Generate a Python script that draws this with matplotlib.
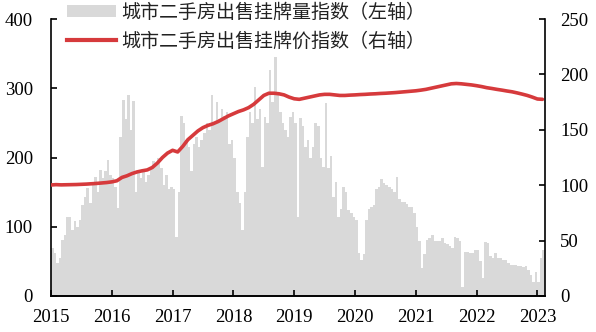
import numpy as np
import matplotlib
matplotlib.use('Agg')
import matplotlib.pyplot as plt
from matplotlib.patches import Patch
from matplotlib.lines import Line2D
from matplotlib.font_manager import FontProperties

# Semi-monthly listing volume index (left axis), 24 values per year
listing_2015 = [69, 62, 48, 55, 81, 88, 114, 114, 95, 108, 100, 110,
                131, 143, 156, 135, 160, 172, 150, 182, 170, 180, 196, 175]
listing_2016 = [170, 158, 127, 230, 283, 255, 290, 240, 282, 150, 178, 170,
                180, 165, 175, 185, 195, 190, 200, 185, 160, 175, 155, 158]
listing_2017 = [155, 85, 150, 260, 250, 225, 215, 180, 220, 230, 215, 225,
                235, 250, 240, 290, 250, 280, 255, 270, 260, 265, 220, 225]
listing_2018 = [200, 150, 135, 95, 150, 230, 265, 250, 302, 255, 270, 186,
                259, 250, 326, 280, 345, 290, 265, 250, 240, 230, 259, 265]
listing_2019 = [250, 114, 257, 245, 215, 225, 200, 215, 250, 245, 200, 187,
                279, 185, 202, 143, 165, 114, 125, 158, 150, 124, 120, 114]
listing_2020 = [110, 62, 52, 60, 110, 125, 129, 132, 155, 158, 169, 163,
                160, 158, 155, 150, 172, 140, 136, 136, 133, 129, 129, 120]
listing_2021 = [100, 80, 40, 60, 81, 84, 88, 80, 79, 79, 84, 76,
                75, 72, 70, 85, 84, 80, 13, 64, 64, 62, 62, 66]
listing_2022 = [67, 50, 26, 78, 77, 58, 55, 62, 55, 55, 52, 52,
                47, 45, 45, 45, 43, 44, 42, 44, 38, 30, 20, 35]
listing_2023 = [20, 55, 66]
listing = (listing_2015 + listing_2016 + listing_2017 + listing_2018 + listing_2019
           + listing_2020 + listing_2021 + listing_2022 + listing_2023)

# Monthly listing price index (right axis)
price = [100.2, 100.5, 100.3, 100.4, 100.5, 100.6, 100.8, 101.0, 101.3, 101.6, 102.0, 102.4,
         103.0, 104.0, 107.0, 108.5, 110.5, 112.0, 113.0, 113.8, 116.0, 120.0, 125.0, 129.0,
         131.5, 130.0, 135.0, 141.0, 145.0, 149.0, 152.0, 154.0, 155.5, 157.5, 160.0, 162.5,
         164.5, 166.5, 168.0, 170.0, 173.0, 177.0, 181.0, 183.0, 183.0, 182.5, 181.5, 179.5,
         178.0, 177.5, 178.5, 179.5, 180.5, 181.5, 182.0, 182.0, 181.5, 181.0, 181.0, 181.3,
         181.5, 181.8, 182.0, 182.3, 182.5, 182.8, 183.0, 183.3, 183.6, 184.0, 184.4, 184.8,
         185.2, 185.8, 186.5, 187.5, 188.5, 189.5, 190.5, 191.5, 191.8, 191.5, 191.0, 190.5,
         189.8, 189.0, 188.0, 187.3, 186.5, 185.8, 185.0, 184.3, 183.3, 182.2, 181.0, 179.5,
         177.8, 177.5]

years = [2015, 2016, 2017, 2018, 2019, 2020, 2021, 2022, 2023]
left_ticks = [0, 100, 200, 300, 400]
right_ticks = [0, 50, 100, 150, 200, 250]
legend_labels = ['城市二手房出售挂牌量指数（左轴）', '城市二手房出售挂牌价指数（右轴）']

plt.rcParams['font.family'] = ['Liberation Serif', 'DejaVu Serif']

fig = plt.figure(figsize=(5.96, 3.32), dpi=100)
ax = fig.add_axes([51 / 596, 1 - 296 / 332, 494 / 596, 277 / 332])

step = 1 / 24
bx = 2015 + np.arange(len(listing)) * step
ax.bar(bx, listing, width=step * 1.02, align='edge', color='#d9d9d9', linewidth=0)
ax.set_xlim(2015, 2015 + len(listing) * step)
ax.set_ylim(0, 400)
ax.set_yticks(left_ticks)
ax.set_xticks(years)
ax.set_xticklabels([str(y) for y in years])

ax2 = ax.twinx()
px = 2015 + np.arange(len(price)) / 12
ax2.plot(px, price, color='#d63a3c', lw=2.6, solid_capstyle='round')
ax2.set_ylim(0, 250)
ax2.set_yticks(right_ticks)

for a in (ax, ax2):
    a.spines['top'].set_visible(False)
    for s in ('left', 'right', 'bottom'):
        a.spines[s].set_linewidth(1.2)
ax.spines['right'].set_visible(False)
ax2.spines['left'].set_visible(False)

ax.tick_params(axis='y', direction='in', length=4, width=1.2, labelsize=13.5, pad=13)
ax.tick_params(axis='x', direction='in', length=4, width=1.2, labelsize=13.5, pad=9)
ax2.tick_params(axis='y', direction='in', length=4, width=1.2, labelsize=13.5, pad=11)

handles = [Patch(facecolor='#d9d9d9', edgecolor='none'),
           Line2D([], [], color='#d63a3c', lw=3)]
leg = ax2.legend(handles, legend_labels, loc='upper left',
                 bbox_to_anchor=(67 / 596, 1 - 2 / 332), bbox_transform=fig.transFigure,
                 frameon=False, prop=FontProperties(family='Noto Sans CJK SC', size=13.7),
                 handlelength=2.6, handleheight=0.6, handletextpad=0.25,
                 labelspacing=0.4, borderpad=0, borderaxespad=0)
for t in leg.get_texts():
    t.set_color('#222222')

fig.savefig('out.png', dpi=100)
